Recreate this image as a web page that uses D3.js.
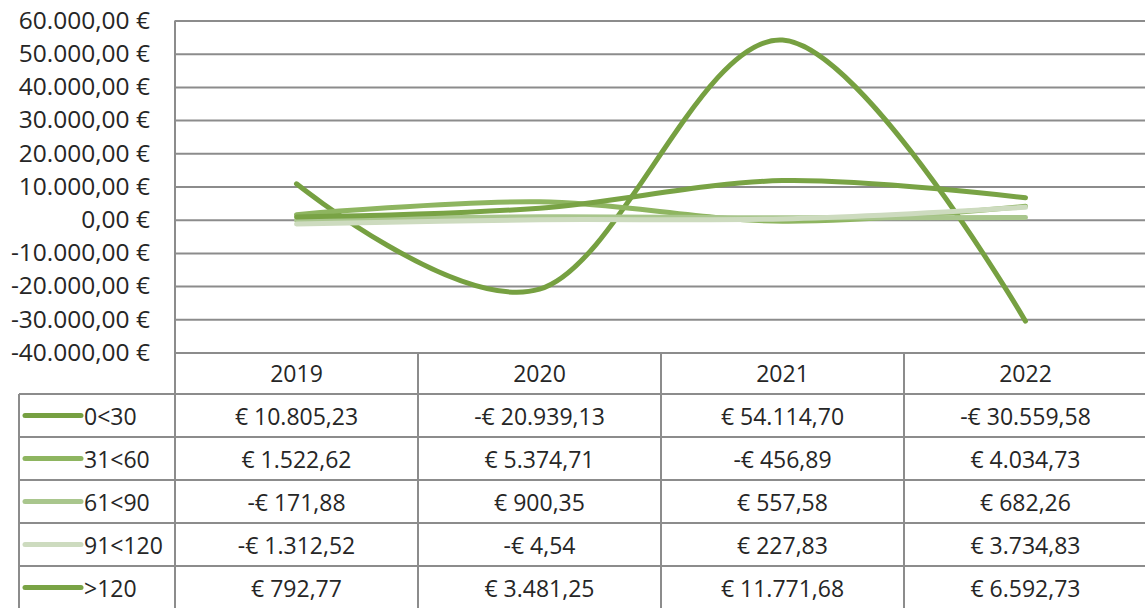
<!DOCTYPE html>
<html>
<head>
<meta charset="utf-8">
<script src="https://cdn.jsdelivr.net/npm/d3@7"></script>
<style>
  html, body { margin: 0; padding: 0; background: #fff; }
  svg { display: block; }
  text { font-family: "Open Sans", "Liberation Sans", sans-serif; fill: #262626; }
</style>
</head>
<body>
<svg id="chart" width="1145" height="608"></svg>
<script>
// Years shown along the category axis and as table columns
const years = ["2019", "2020", "2021", "2022"];

// Series names (ageing buckets, in days)
const seriesNames = ["0<30", "31<60", "61<90", "91<120", ">120"];

// Values per series, one per year (EUR)
const s0to30   = [10805.23, -20939.13, 54114.70, -30559.58];
const s31to60  = [1522.62, 5374.71, -456.89, 4034.73];
const s61to90  = [-171.88, 900.35, 557.58, 682.26];
const s91to120 = [-1312.52, -4.54, 227.83, 3734.83];
const sOver120 = [792.77, 3481.25, 11771.68, 6592.73];

// Value-axis ticks
const yTicks = [60000, 50000, 40000, 30000, 20000, 10000, 0, -10000, -20000, -30000, -40000];

const seriesValues = [s0to30, s31to60, s61to90, s91to120, sOver120];
const seriesColors = ["#76a041", "#8eb560", "#a9c68d", "#cddbbf", "#79a345"];

const svg = d3.select("#chart");

const plot = { left: 175, right: 1147, top: 20.5, bottom: 352.5 };
const headerBottom = 394;
const rowH = 43;
const legendLeft = 19;
const gridColor = "#8c8c8c";
const fontSize = 23;
const axisFontSize = 24.5;

const x = d3.scaleBand().domain(years).range([plot.left, plot.right]).padding(0);
const y = d3.scaleLinear().domain([-40000, 60000]).range([plot.bottom, plot.top]);

const de = d3.formatLocale({ decimal: ",", thousands: ".", grouping: [3], currency: ["€ ", ""] });
const num = de.format(",.2f");
const axisFmt = v => (v < 0 ? "-" : "") + num(Math.abs(v)) + " €";
const cellFmt = v => (v < 0 ? "-€ " : "€ ") + num(Math.abs(v));

// Horizontal gridlines with euro labels
const yAxis = d3.axisLeft(y).tickValues(yTicks).tickSize(0).tickPadding(25).tickFormat(axisFmt);
const gy = svg.append("g").attr("transform", `translate(${plot.left},0)`).call(yAxis);
gy.select(".domain").remove();
gy.selectAll("text").attr("font-size", axisFontSize).attr("fill", "#262626")
  .style("font-family", '"Open Sans", "Liberation Sans", sans-serif');
gy.selectAll(".tick").append("line")
  .attr("x1", 0).attr("x2", plot.right - plot.left)
  .attr("stroke", gridColor).attr("stroke-width", 2);

// Data table grid
const rowsTop = headerBottom;
const tableBottom = rowsTop + rowH * seriesNames.length;
const tbl = svg.append("g").attr("stroke", gridColor).attr("stroke-width", 2).attr("fill", "none");
// vertical axis line + column separators
tbl.append("line").attr("x1", plot.left).attr("x2", plot.left).attr("y1", plot.top).attr("y2", tableBottom);
years.slice(1).forEach(yr => {
  tbl.append("line").attr("x1", x(yr)).attr("x2", x(yr)).attr("y1", plot.bottom).attr("y2", tableBottom);
});
tbl.append("line").attr("x1", legendLeft).attr("x2", legendLeft).attr("y1", rowsTop).attr("y2", tableBottom);
// header bottom and row separators
for (let i = 0; i <= seriesNames.length; i++) {
  const yy = rowsTop + rowH * i;
  tbl.append("line").attr("x1", legendLeft).attr("x2", plot.right).attr("y1", yy).attr("y2", yy);
}

// Header year labels
svg.append("g").selectAll("text").data(years).join("text")
  .attr("x", d => x(d) + x.bandwidth() / 2)
  .attr("y", (plot.bottom + headerBottom) / 2)
  .attr("text-anchor", "middle").attr("dominant-baseline", "central")
  .attr("font-size", fontSize).text(d => d);

// Legend keys and cell values
seriesNames.forEach((name, i) => {
  const cy = rowsTop + rowH * i + rowH / 2;
  svg.append("line").attr("x1", 25).attr("x2", 81).attr("y1", cy).attr("y2", cy)
    .attr("stroke", seriesColors[i]).attr("stroke-width", 5).attr("stroke-linecap", "round");
  svg.append("text").attr("x", 84).attr("y", cy).attr("dominant-baseline", "central")
    .attr("font-size", fontSize).text(name);
  svg.append("g").selectAll("text").data(seriesValues[i]).join("text")
    .attr("x", (d, j) => x(years[j]) + x.bandwidth() / 2)
    .attr("y", cy)
    .attr("text-anchor", "middle").attr("dominant-baseline", "central")
    .attr("font-size", fontSize).text(d => cellFmt(d));
});

// Smoothed series lines
const line = d3.line()
  .x((d, j) => x(years[j]) + x.bandwidth() / 2)
  .y(d => y(d))
  .curve(d3.curveCardinal.tension(0));

svg.append("g").selectAll("path").data(seriesValues).join("path")
  .attr("d", d => line(d))
  .attr("fill", "none")
  .attr("stroke", (d, i) => seriesColors[i])
  .attr("stroke-width", 5)
  .attr("stroke-linecap", "round")
  .attr("stroke-linejoin", "round");
</script>
</body>
</html>
